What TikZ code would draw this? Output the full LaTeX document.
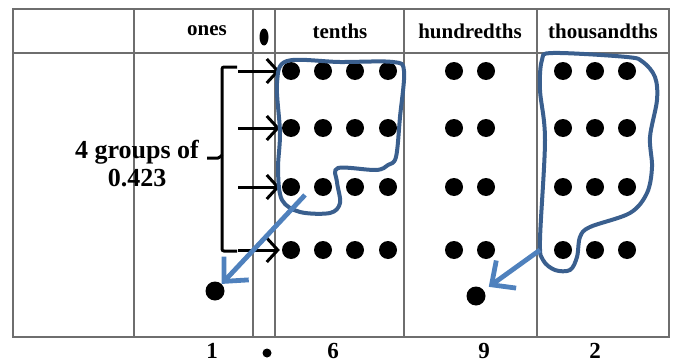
\documentclass[tikz,border=0pt]{standalone}
\usepackage{fontspec}
\setmainfont{Liberation Serif}
\usetikzlibrary{arrows.meta}

\definecolor{loopblue}{RGB}{58,95,142}
\definecolor{carryblue}{RGB}{79,129,189}
\definecolor{gridgray}{RGB}{110,110,110}

\tikzset{
  grid line/.style={draw=gridgray, line width=1.4pt},
  counter/.style={circle, fill=black, inner sep=0pt, minimum size=18pt},
  head text/.style={font=\bfseries\fontsize{21}{24}\selectfont},
  digit text/.style={font=\bfseries\fontsize{23}{26}\selectfont},
  group loop/.style={draw=loopblue, line width=4pt, line join=round},
  carry arrow/.style={draw=carryblue, line width=4.8pt,
    -{Straight Barb[length=18pt, width=34pt, line width=4.8pt]}},
  row arrow/.style={line width=3pt,
    -{Straight Barb[length=11pt, width=24pt, line width=3pt]}}
}

\begin{document}
\begin{tikzpicture}[x=1pt, y=-1pt]
  \useasboundingbox (0,0) rectangle (675,364);

  % place value table
  \draw [grid line] (13,9) rectangle (669,337);
  \draw [grid line] (13,53) -- (669,53);
  \foreach \xl in {134, 253, 275, 404, 537}
    \draw [grid line] (\xl,9) -- (\xl,337);

  % column heads
  \node [head text] (ones) at (207,31) {ones};
  \fill (264,37) ellipse [x radius=4.5pt, y radius=8.5pt];
  \node [head text] (tenths) at (340,31) {tenths};
  \node [head text] (hundredths) at (470,31) {hundredths};
  \node [head text] (thousandths) at (603,31) {thousandths};

  % counters, one row per group
  \foreach \r/\yr in {1/71, 2/128, 3/187, 4/250} {
    \foreach \c/\xc in {1/291, 2/323, 3/355, 4/388}
      \node [counter] (t-\r-\c) at (\xc,\yr) {};
    \foreach \c/\xc in {1/454, 2/486}
      \node [counter] (h-\r-\c) at (\xc,\yr) {};
    \foreach \c/\xc in {1/563, 2/595, 3/627}
      \node [counter] (th-\r-\c) at (\xc,\yr) {};
    \coordinate (start-\r) at (238,\yr);
    \draw [row arrow] (start-\r) -- ([xshift=-2pt]t-\r-1.west);
  }

  % bracket and label
  \draw [line width=3pt, rounded corners=2pt]
    (237,67) -- (222,67) -- (222,251) -- (237,251);
  \draw [line width=3pt, rounded corners=2pt] (222,155) -- (220,158) -- (207,158);
  \node [font=\bfseries\fontsize{26}{28}\selectfont, align=center] (groups)
    at (137,164) {4 groups of\\0.423};

  % regrouped counters
  \node [counter, minimum size=19pt] (one) at (215,291) {};
  \node [counter, minimum size=19pt] (hun) at (476,296) {};

  % groups of ten
  \draw [group loop] plot [smooth cycle, tension=0.55] coordinates {
    (287,61) (340,62) (393,62) (404,71) (400,117) (396,157) (388,165)
    (376,170) (338,168) (337,182) (340,203) (330,213) (300,212) (282,200)
    (278,170) (280,133) (277,83)};
  \draw [group loop] plot [smooth cycle, tension=0.55] coordinates {
    (553,53) (627,57) (643,62) (655,77) (657,100) (650,137) (652,167)
    (647,193) (630,213) (590,227) (580,237) (577,257) (570,270) (555,270)
    (543,260) (540,240) (545,140) (540,90) (542,60)};

  \coordinate (tenfrom) at (305,195);
  \coordinate (thfrom) at (540,250);
  \draw [carry arrow] (tenfrom) -- (one);
  \draw [carry arrow, shorten >=6pt] (thfrom) -- (hun);

  % digits
  \node [digit text] (d1) at (212,351) {1};
  \fill (267,353) circle [radius=4.5pt];
  \node [digit text] (d6) at (333,351) {6};
  \node [digit text] (d9) at (484,351) {9};
  \node [digit text] (d2) at (595,351) {2};
\end{tikzpicture}
\end{document}
